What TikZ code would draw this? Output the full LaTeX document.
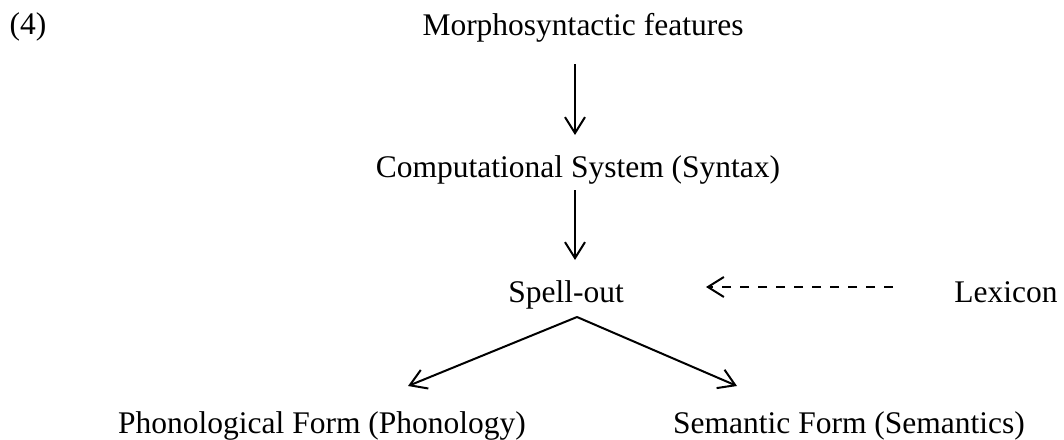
\documentclass[tikz,border=0pt]{standalone}
\usepackage{fontspec}
\setmainfont{Liberation Serif}
\usetikzlibrary{arrows.meta}
\begin{document}
\begin{tikzpicture}[x=1pt,y=-1pt,
  lbl/.style={anchor=base,inner sep=0pt,font=\fontsize{31.5}{36}\selectfont},
  conn/.style={line width=2pt,-{Straight Barb[length=16pt,width=20pt,line width=2pt]}},
  dconn/.style={conn,dash pattern=on 9pt off 9pt}]
\useasboundingbox (0,0) rectangle (1064,439);
% labels (placed by baseline)
\node[lbl] (num) at (28,34) {(4)};
\node[lbl] (morph) at (583,35) {Morphosyntactic features};
\node[lbl] (comp) at (578,177) {Computational System (Syntax)};
\node[lbl] (spell) at (566,302) {Spell-out};
\node[lbl] (lex) at (1006,302) {Lexicon};
\node[lbl] (phon) at (322,433) {Phonological Form (Phonology)};
\node[lbl] (sem) at (849,433) {Semantic Form (Semantics)};
% connector end points
\coordinate (a1s) at (575,64);  \coordinate (a1e) at (575,135);
\coordinate (a2s) at (575,190); \coordinate (a2e) at (575,260);
\coordinate (ds) at (893,287);  \coordinate (de) at (706,287);
\coordinate (apex) at (577,317);
\coordinate (lt) at (408,386);  \coordinate (rt) at (737,386);
% connectors
\draw[conn] (a1s) -- (a1e);
\draw[conn] (a2s) -- (a2e);
\draw[dconn] (ds) -- (de);
\draw[conn] (apex) -- (lt);
\draw[conn] (apex) -- (rt);
\end{tikzpicture}
\end{document}
